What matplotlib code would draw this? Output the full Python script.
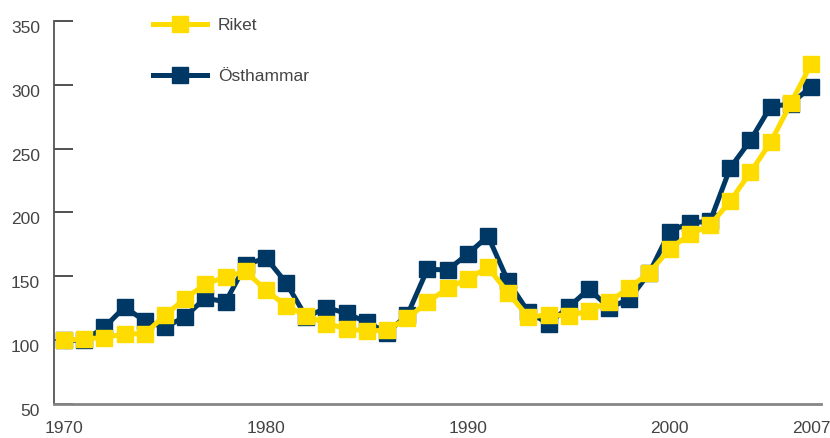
import matplotlib
matplotlib.use("Agg")
import matplotlib.pyplot as plt

years = list(range(1970, 2008))
riket = [100, 101, 102, 105, 105, 119.5, 132.5, 144, 149.5, 154,
         139, 127, 119, 113, 109, 107, 108, 117, 130, 140.5,
         148, 157, 137, 118, 120, 119, 123, 130, 141, 153,
         171.5, 183, 190, 209, 231.5, 255, 285.5, 316]
osthammar = [100, 100, 110, 126, 115, 110, 118.5, 133, 130, 159,
             164.5, 145, 118, 125.5, 121, 114, 106, 119.5, 155.5, 155,
             167.5, 181.5, 146, 122, 113, 126, 140, 125.5, 132, 153,
             185, 192, 193, 235, 256.5, 283, 285, 298.5]
xtick_vals = [1970, 1980, 1990, 2000, 2007]
ytick_vals = [50, 100, 150, 200, 250, 300, 350]

YELLOW = "#FFDC00"
NAVY = "#003865"
TXT = "#444444"

plt.rcParams['font.family'] = ['Liberation Sans', 'DejaVu Sans']

fig = plt.figure(figsize=(8.30, 4.38), dpi=100)
ax = fig.add_axes([54/830, 1-404/438, 767/830, 383/438])

ax.plot(years, osthammar, color=NAVY, lw=3.6, marker='s', ms=11.5,
        label='Östhammar', zorder=3)
ax.plot(years, riket, color=YELLOW, lw=3.6, marker='s', ms=11.5,
        label='Riket', zorder=4)

ax.set_xlim(1970 - 10/20.19, 2007 + 10/20.19)
ax.set_ylim(50, 350)

for s in ['top', 'right']:
    ax.spines[s].set_visible(False)
ax.spines['bottom'].set_color('#858585')
ax.spines['bottom'].set_linewidth(2)
ax.spines['left'].set_color('#555555')
ax.spines['left'].set_linewidth(1.3)

ax.set_xticks(xtick_vals)
ax.set_xticklabels([str(v) for v in xtick_vals])
ax.set_yticks(ytick_vals)
ax.set_yticklabels([str(v) for v in ytick_vals])
ax.tick_params(axis='x', length=0, pad=12, labelsize=12.5, labelcolor=TXT)
ax.tick_params(axis='y', direction='in', length=13.7, width=1.1,
               color='#222222', pad=10, labelsize=12.5, labelcolor=TXT)
for lab in ax.get_yticklabels():
    lab.set_verticalalignment('top')

handles, labels = ax.get_legend_handles_labels()
leg = fig.legend(handles[::-1], labels[::-1], loc='upper left',
                 bbox_to_anchor=(153/830, 1-18/438), frameon=False,
                 fontsize=12.5, labelspacing=2.05, handlelength=3.1,
                 handletextpad=0.65, borderpad=0, borderaxespad=0)
for t in leg.get_texts():
    t.set_color(TXT)

fig.savefig("out.png", dpi=100)
